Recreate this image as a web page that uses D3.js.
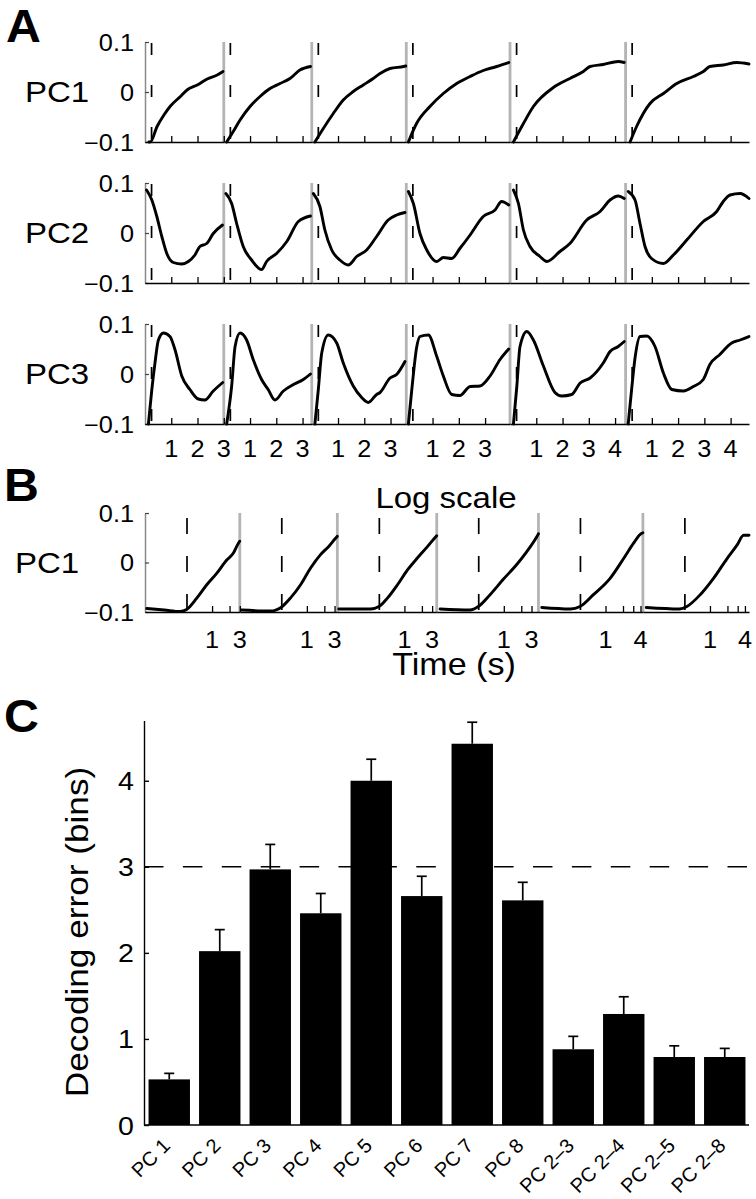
<!DOCTYPE html>
<html><head><meta charset="utf-8">
<script src="https://cdn.jsdelivr.net/npm/d3@7"></script>
<style>body{margin:0;background:#fff} svg{display:block}</style>
</head><body><svg id="c" width="756" height="1199"></svg>
<script>
// ---------------- DATA ----------------
const durations = [3.0, 3.35, 3.6, 3.95, 4.4, 4.7];   // interval durations (s)
const cueTimeA = 0.25;
const cueTimeB = 0.37;
const tMinB = 0.07;                                       // log-axis start (s)
const yTicksA = [-0.1, 0, 0.1];
const yTickLabelsA = ["\u22120.1", "0", "0.1"];
const rowLabelsA = ["PC1", "PC2", "PC3"];
const rowLabelB = "PC1";

const pc1A = [
 [[0.15,-0.1],[0.2,-0.1],[0.46,-0.069],[0.72,-0.046],[0.97,-0.028],[1.35,-0.009],[1.6,0.004],[1.99,0.014],[2.37,0.026],[2.75,0.034],[2.97,0.041]],
 [[0.11,-0.1],[0.36,-0.079],[0.62,-0.056],[1.0,-0.029],[1.38,-0.009],[1.76,0.007],[2.14,0.017],[2.52,0.027],[2.9,0.044],[3.3,0.051]],
 [[0.12,-0.1],[0.44,-0.073],[0.82,-0.043],[1.2,-0.016],[1.58,0.001],[1.96,0.014],[2.34,0.027],[2.6,0.037],[2.98,0.047],[3.5,0.051],[3.58,0.052]],
 [[0.08,-0.1],[0.39,-0.063],[0.9,-0.029],[1.41,-0.003],[1.92,0.017],[2.43,0.031],[2.93,0.043],[3.44,0.051],[3.9,0.059]],
 [[0.13,-0.1],[0.51,-0.063],[0.89,-0.029],[1.65,0.009],[2.28,0.027],[2.79,0.041],[3.05,0.051],[3.55,0.055],[4.12,0.061],[4.35,0.059]],
 [[0.17,-0.1],[0.42,-0.069],[0.93,-0.023],[1.44,-0.003],[1.95,0.017],[2.58,0.031],[2.96,0.041],[3.21,0.051],[3.72,0.054],[4.23,0.059],[4.7,0.056]]
];
const pc2A = [
 [[0.06,0.086],[0.26,0.066],[0.45,0.033],[0.64,-0.007],[0.83,-0.041],[1.08,-0.059],[1.4,-0.062],[1.65,-0.057],[1.9,-0.044],[2.09,-0.027],[2.35,-0.021],[2.6,-0.001],[2.95,0.016]],
 [[0.08,0.079],[0.3,0.059],[0.49,0.019],[0.74,-0.027],[1.06,-0.054],[1.44,-0.073],[1.63,-0.057],[2.01,-0.041],[2.4,-0.017],[2.84,0.023],[3.3,0.034]],
 [[0.06,0.079],[0.31,0.053],[0.5,0.006],[0.76,-0.034],[1.07,-0.054],[1.39,-0.064],[1.71,-0.047],[2.09,-0.034],[2.47,-0.007],[2.91,0.026],[3.23,0.036],[3.55,0.041]],
 [[0.08,0.083],[0.27,0.059],[0.52,-0.001],[0.78,-0.034],[1.16,-0.057],[1.41,-0.049],[1.73,-0.051],[2.04,-0.031],[2.43,-0.004],[2.93,0.033],[3.38,0.046],[3.63,0.063],[3.9,0.056]],
 [[0.13,0.086],[0.32,0.059],[0.51,0.006],[0.76,-0.027],[1.14,-0.047],[1.4,-0.057],[1.9,-0.037],[2.28,-0.021],[2.92,0.026],[3.43,0.043],[3.81,0.066],[4.12,0.074],[4.35,0.069]],
 [[0.1,0.083],[0.36,0.066],[0.55,0.019],[0.74,-0.027],[0.99,-0.051],[1.44,-0.061],[1.82,-0.044],[2.33,-0.014],[2.96,0.023],[3.47,0.043],[3.72,0.063],[3.98,0.076],[4.36,0.079],[4.7,0.069]]
];
const pc3A = [
 [[0.13,-0.1],[0.26,-0.031],[0.38,0.022],[0.51,0.068],[0.7,0.082],[0.95,0.075],[1.14,0.049],[1.4,-0.004],[1.71,-0.031],[2.03,-0.05],[2.28,-0.052],[2.6,-0.034],[2.96,-0.017]],
 [[0.11,-0.1],[0.3,-0.024],[0.43,0.055],[0.62,0.082],[0.87,0.068],[1.12,0.029],[1.44,-0.011],[1.69,-0.031],[1.95,-0.052],[2.27,-0.034],[2.65,-0.021],[3.03,-0.011],[3.3,0.0]],
 [[0.12,-0.1],[0.25,-0.031],[0.38,0.042],[0.63,0.078],[0.95,0.062],[1.2,0.022],[1.58,-0.024],[1.9,-0.047],[2.15,-0.057],[2.47,-0.041],[2.6,-0.037],[2.98,-0.008],[3.23,-0.001],[3.55,0.025]],
 [[0.08,-0.1],[0.21,-0.031],[0.4,0.055],[0.52,0.075],[0.84,0.078],[1.16,0.035],[1.41,-0.004],[1.73,-0.041],[2.04,-0.043],[2.43,-0.025],[2.81,-0.024],[3.19,-0.004],[3.57,0.029],[3.9,0.05]],
 [[0.13,-0.1],[0.26,-0.024],[0.38,0.055],[0.64,0.085],[0.89,0.068],[1.27,0.016],[1.71,-0.037],[1.97,-0.044],[2.35,-0.041],[2.67,-0.018],[3.05,-0.008],[3.55,0.022],[3.81,0.045],[4.12,0.055],[4.35,0.065]],
 [[0.1,-0.1],[0.23,-0.031],[0.36,0.032],[0.55,0.075],[0.8,0.076],[1.12,0.055],[1.44,0.002],[1.76,-0.031],[2.2,-0.034],[2.58,-0.025],[2.96,-0.011],[3.21,0.019],[3.59,0.039],[4.04,0.062],[4.36,0.068],[4.7,0.075]]
];
const pc1B = [
 [[0.075,-0.093],[0.15,-0.096],[0.28,-0.099],[0.365,-0.095],[0.545,-0.072],[0.81,-0.045],[1.2,-0.022],[1.79,0.005],[2.33,0.019],[2.84,0.039],[3.0,0.043]],
 [[0.075,-0.096],[0.237,-0.098],[0.376,-0.089],[0.52,-0.072],[0.78,-0.045],[1.16,-0.011],[1.72,0.016],[2.4,0.033],[3.12,0.049],[3.35,0.053]],
 [[0.074,-0.094],[0.26,-0.094],[0.365,-0.089],[0.51,-0.072],[0.76,-0.045],[1.13,-0.015],[1.67,0.009],[2.49,0.032],[3.47,0.052],[3.6,0.054]],
 [[0.08,-0.094],[0.26,-0.096],[0.365,-0.089],[0.58,-0.065],[0.98,-0.034],[1.67,-0.004],[2.49,0.022],[3.7,0.052],[3.95,0.058]],
 [[0.08,-0.091],[0.247,-0.094],[0.365,-0.089],[0.62,-0.065],[1.2,-0.032],[2.05,0.008],[3.04,0.039],[3.96,0.057],[4.4,0.06]],
 [[0.08,-0.091],[0.3,-0.094],[0.4,-0.089],[0.68,-0.065],[1.15,-0.032],[1.97,0.008],[2.92,0.035],[3.79,0.055],[4.7,0.055]]
];

const barCategories = ["PC 1","PC 2","PC 3","PC 4","PC 5","PC 6","PC 7","PC 8","PC 2\u20133","PC 2\u20134","PC 2\u20135","PC 2\u20138"];
const barValues = [0.53, 2.02, 2.97, 2.46, 4.0, 2.66, 4.43, 2.61, 0.88, 1.29, 0.79, 0.79];
const barErrors = [0.07, 0.25, 0.29, 0.23, 0.25, 0.23, 0.25, 0.21, 0.15, 0.20, 0.13, 0.10];
const barTicks = [0, 1, 2, 3, 4];
const chanceLevel = 3;

// ---------------- DRAWING ----------------
const svg = d3.select("#c");
const FONT = "'Liberation Sans', Arial, Helvetica, sans-serif";
function txt(x, y, s, size, anchor = "middle", rot = 0, weight = "normal", sx = 1.1) {
  svg.append("text")
    .attr("transform", `translate(${x},${y}) rotate(${rot}) scale(${sx},1)`)
    .attr("text-anchor", anchor).attr("font-family", FONT)
    .attr("font-size", size).attr("font-weight", weight).attr("fill", "#000")
    .text(s);
}

const L = 145, R = 749;
const total = d3.sum(durations);
const offs = durations.map((d, i) => d3.sum(durations.slice(0, i)));
const xA = d3.scaleLinear().domain([0, total]).range([L, R]);
const segA = durations.map((d, i) => d3.scaleLinear().domain([0, d]).range([xA(offs[i]), xA(offs[i] + d)]));

const uB = durations.map(d => Math.log10(d / tMinB));
const uOff = uB.map((u, i) => d3.sum(uB.slice(0, i)));
const xB = d3.scaleLinear().domain([0, d3.sum(uB)]).range([L, R]);
const segB = durations.map((d, i) => d3.scaleLog().domain([tMinB, d]).range([xB(uOff[i]), xB(uOff[i] + uB[i])]));

function drawRow(top, h, segs, data, cueT, dash, dashOff, label, labelX, showX, xLabelY, logMode) {
  const y = d3.scaleLinear().domain([-0.1, 0.1]).range([top + h, top]);
  const g = svg.append("g");
  segs.forEach((s, i) => {
    if (i === 0) return;
    g.append("line").attr("x1", s.range()[0]).attr("x2", s.range()[0])
      .attr("y1", top).attr("y2", top + h).attr("stroke", "#b4b4b4").attr("stroke-width", 2.8);
  });
  const ya = g.append("g").attr("transform", `translate(${L},0)`)
    .call(d3.axisLeft(y).tickValues(yTicksA).tickSize(-4).tickSizeOuter(0).tickFormat(""));
  ya.select(".domain").attr("stroke", "#8a8a8a").attr("stroke-width", 1.5);
  ya.selectAll(".tick line").attr("stroke", "#444").attr("stroke-width", 1.2);
  yTicksA.forEach((v, i) => txt(134, y(v) + 8.5, yTickLabelsA[i], 23, "end"));
  segs.forEach(s => {
    g.append("line").attr("x1", s(cueT)).attr("x2", s(cueT))
      .attr("y1", top + dashOff).attr("y2", top + h)
      .attr("stroke", "#000").attr("stroke-width", 1.7).attr("stroke-dasharray", dash);
  });
  segs.forEach((s, i) => {
    const ticks = d3.range(1, Math.floor(durations[i] + 0.01) + 1);
    const ax = g.append("g").attr("transform", `translate(0,${top + h})`)
      .call(d3.axisBottom(s).tickValues(ticks).tickSize(-6).tickSizeOuter(0).tickFormat(""));
    ax.select(".domain").attr("stroke", "#000").attr("stroke-width", 1.6);
    ax.selectAll(".tick line").attr("stroke", "#000").attr("stroke-width", 1.3);
    if (showX) {
      const labs = logMode ? [1, ticks[ticks.length - 1]] : ticks;
      labs.forEach(t => txt(s(t), xLabelY, String(t), 23, "middle"));
    }
  });
  segs.forEach((s, i) => {
    const line = d3.line().x(d => s(d[0])).y(d => y(d[1])).curve(d3.curveMonotoneX);
    g.append("path").datum(data[i]).attr("d", line)
      .attr("fill", "none").attr("stroke", "#000").attr("stroke-width", 2.9)
      .attr("stroke-linejoin", "round").attr("stroke-linecap", "round");
  });
  txt(labelX, top + h / 2 + 10, label, 30, "middle");
}

// Panel A
const rowTops = [42, 183, 324];
const rowsData = [pc1A, pc2A, pc3A];
rowTops.forEach((t, r) => drawRow(t, 100, segA, rowsData[r], cueTimeA, "12,30", 1, rowLabelsA[r], 57, r === 2, 457, false));
// Panel B
drawRow(513, 99, segB, pc1B, cueTimeB, "16,22", 5, rowLabelB, 47, true, 648, true);
txt(446, 508, "Log scale", 30, "middle");
txt(454, 675, "Time (s)", 31, "middle");

// Panel letters
txt(6, 42, "A", 46, "start", 0, "bold", 1.05);
txt(4, 501, "B", 46, "start", 0, "bold", 1.05);
txt(4, 732, "C", 46, "start", 0, "bold", 1.05);

// Panel C
const yC = d3.scaleLinear().domain([0, 4.7]).range([1125, 720.5]);
const xC = d3.scaleBand().domain(barCategories).range([144, 750]).paddingInner(0.18).paddingOuter(0.09);
const gc = svg.append("g");
gc.append("line").attr("x1", 144).attr("x2", 749).attr("y1", yC(chanceLevel)).attr("y2", yC(chanceLevel))
  .attr("stroke", "#000").attr("stroke-width", 1.5).attr("stroke-dasharray", "19.5,19.4");
gc.selectAll("rect.bar").data(barCategories).enter().append("rect")
  .attr("x", d => xC(d)).attr("width", xC.bandwidth())
  .attr("y", (d, i) => yC(barValues[i])).attr("height", (d, i) => yC(0) - yC(barValues[i]))
  .attr("fill", "#000");
barCategories.forEach((c, i) => {
  const cx = xC(c) + xC.bandwidth() / 2;
  const y0 = yC(barValues[i]), y1 = yC(barValues[i] + barErrors[i]);
  gc.append("line").attr("x1", cx).attr("x2", cx).attr("y1", y0).attr("y2", y1).attr("stroke", "#000").attr("stroke-width", 1.7);
  gc.append("line").attr("x1", cx - 5).attr("x2", cx + 5).attr("y1", y1).attr("y2", y1).attr("stroke", "#000").attr("stroke-width", 1.7);
  txt(cx + 2, 1147, c, 20, "end", -45, "normal", 1);
});
const yax = gc.append("g").attr("transform", "translate(144,0)")
  .call(d3.axisLeft(yC).tickValues(barTicks).tickSize(-5).tickSizeOuter(0).tickFormat(""));
yax.select(".domain").attr("stroke", "#000").attr("stroke-width", 1.4);
yax.selectAll(".tick line").attr("stroke", "#000").attr("stroke-width", 1.4);
barTicks.forEach(v => txt(134, yC(v) + 9.5, String(v), 26, "end"));
gc.append("line").attr("x1", 144).attr("x2", 749).attr("y1", yC(0)).attr("y2", yC(0)).attr("stroke", "#000").attr("stroke-width", 1.7);
txt(88, 932, "Decoding error (bins)", 32, "middle", -90);
</script></body></html>
